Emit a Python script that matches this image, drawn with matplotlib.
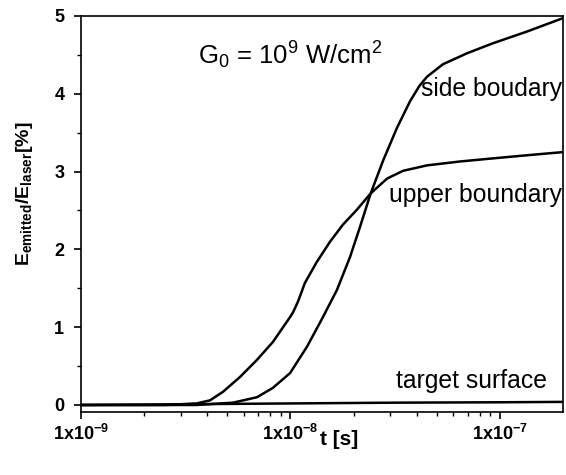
import numpy as np
import matplotlib
matplotlib.use("Agg")
import matplotlib.pyplot as plt
import matplotlib.transforms as mtransforms
from matplotlib.ticker import FixedLocator, NullFormatter, LogLocator

plt.rcParams['font.family'] = ['Liberation Sans', 'DejaVu Sans']
plt.rcParams['mathtext.fontset'] = 'custom'
plt.rcParams['mathtext.rm'] = 'Liberation Sans'
plt.rcParams['mathtext.it'] = 'Liberation Sans'
plt.rcParams['mathtext.bf'] = 'Liberation Sans:bold'

# data (log10 of time in s, percent)
upper_logt = [-9.0, -8.6, -8.448, -8.384, -8.322, -8.241, -8.160, -8.084, -8.002,
              -7.988, -7.964, -7.931, -7.874, -7.811, -7.749, -7.683, -7.617,
              -7.539, -7.463, -7.348, -7.191, -7.033, -6.871, -6.702]
upper_val = [0.0, 0.0, 0.02, 0.06, 0.17, 0.36, 0.58, 0.81, 1.13,
             1.19, 1.33, 1.57, 1.84, 2.10, 2.32, 2.51, 2.72,
             2.91, 3.01, 3.08, 3.13, 3.17, 3.21, 3.25]

side_logt = [-9.0, -8.45, -8.274, -8.160, -8.084, -8.002, -7.921, -7.845, -7.778,
             -7.716, -7.668, -7.617, -7.558, -7.492, -7.430, -7.385, -7.348, -7.272,
             -7.158, -7.033, -6.871, -6.702]
side_val = [0.0, 0.0, 0.03, 0.10, 0.22, 0.41, 0.75, 1.13, 1.48,
            1.90, 2.29, 2.72, 3.14, 3.56, 3.90, 4.10, 4.22, 4.38,
            4.52, 4.65, 4.80, 4.97]

target_logt = [-9.0, -8.5, -8.0, -7.5, -7.0, -6.699]
target_val = [0.0, 0.01, 0.02, 0.03, 0.035, 0.04]

xticks = [1e-9, 1e-8, 1e-7]
xticklabels = [r'$\mathbf{1x10^{-9}}$', r'$\mathbf{1x10^{-8}}$', r'$\mathbf{1x10^{-7}}$']
yticks = [0, 1, 2, 3, 4, 5]

fig = plt.figure(figsize=(5.66, 4.75), dpi=100)
ax = fig.add_axes([81/566, 1-412/475, (563-81)/566, (412-16)/475])

for lt, v in [(upper_logt, upper_val), (side_logt, side_val), (target_logt, target_val)]:
    ax.plot(10**np.array(lt), v, color='black', lw=1.8, solid_joinstyle='round')

ax.set_xscale('log')
ax.set_xlim(1e-9, 10**-6.699)
ax.set_ylim(-0.09, 5)

ax.xaxis.set_major_locator(FixedLocator(xticks))
ax.set_xticklabels(xticklabels)
ax.xaxis.set_minor_locator(LogLocator(base=10, subs=np.arange(2, 10)))
ax.xaxis.set_minor_formatter(NullFormatter())
ax.set_yticks(yticks)
ax.set_yticks([0.5, 1.5, 2.5, 3.5, 4.5], minor=True)
for lab in ax.get_yticklabels():
    lab.set_fontweight('bold')

ax.tick_params(which='major', direction='out', length=5, width=1.2, labelsize=13,
               top=False, right=False)
ax.tick_params(axis='y', which='major', pad=7)
ax.tick_params(which='minor', direction='out', length=3, width=1.0,
               top=False, right=False)
for s in ax.spines.values():
    s.set_linewidth(1.2)

ax.set_ylabel(r'E$_{\mathregular{emitted}}$/E$_{\mathregular{laser}}$[%]',
              fontsize=14, fontweight='bold')
ax.yaxis.set_label_coords(-0.095, 0.55)
ax.set_xlabel('t [s]', fontsize=15, fontweight='bold')
ax.xaxis.set_label_coords(0.535, -0.045)

blend = mtransforms.blended_transform_factory(ax.transAxes, ax.transData)
ax.text(3.6e-9, 4.49, r'G$_{\mathregular{0}}$ = 10$^{\mathregular{9}}$ W/cm$^{\mathregular{2}}$',
        fontsize=18.5, va='center', ha='left')
ax.text(0.998, 4.06, 'side boudary', fontsize=17.8, va='center', ha='right',
        transform=blend)
ax.text(0.998, 2.70, 'upper boundary', fontsize=17.8, va='center', ha='right',
        transform=blend)
ax.text(0.967, 0.31, 'target surface', fontsize=17.8, va='center', ha='right',
        transform=blend)

fig.savefig('out.png', dpi=100)
